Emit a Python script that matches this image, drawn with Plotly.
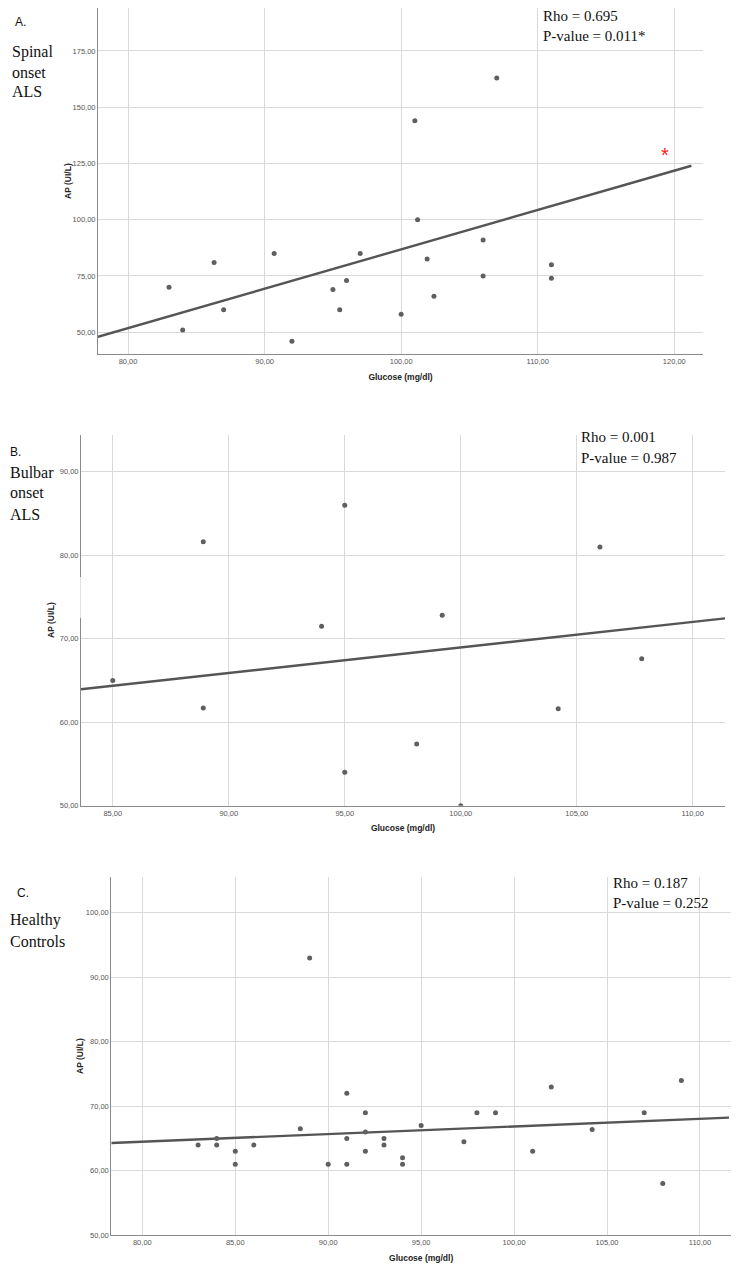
import plotly.graph_objects as go

# page is shown with the browser's default 8px body margin
OFF = 8
W, H = 747 - OFF, 1269 - OFF

# ---------------- data ----------------
# Panel A: Spinal onset ALS
spinal_glucose = [83, 84, 86.3, 87, 90.7, 92, 95, 95.5, 96, 97, 100, 101, 101.2, 101.9, 102.4, 106, 106, 107, 111, 111]
spinal_ap = [70, 51, 81, 60, 85, 46, 69, 60, 73, 85, 58, 144, 100, 82.5, 66, 75, 91, 163, 80, 74]
spinal_fit_x = [77.8, 121.25]
spinal_fit_y = [48.0, 124.0]

# Panel B: Bulbar onset ALS
bulbar_glucose = [85, 88.9, 88.9, 94, 95, 95, 98.1, 99.2, 100, 104.2, 106, 107.8]
bulbar_ap = [65, 81.6, 61.7, 71.5, 86, 54, 57.4, 72.8, 50, 61.6, 81, 67.6]
bulbar_fit_x = [83.63, 111.94]
bulbar_fit_y = [63.95, 72.6]

# Panel C: Healthy controls
control_glucose = [83, 84, 84, 85, 85, 86, 88.5, 89, 90, 91, 91, 91, 92, 92, 92,
                   93, 93, 94, 94, 95, 97.3, 98, 99, 101, 102, 104.2, 107, 108, 109]
control_ap = [64, 65, 64, 63, 61, 64, 66.5, 93, 61, 72, 65, 61, 69, 66, 63,
              65, 64, 62, 61, 67, 64.5, 69, 69, 63, 73, 66.4, 69, 58, 74]
control_fit_x = [78.33, 111.56]
control_fit_y = [64.3, 68.23]

# axis ticks
a_xticks = [80, 90, 100, 110, 120]
a_yticks = [50, 75, 100, 125, 150, 175]
b_xticks = [85, 90, 95, 100, 105, 110]
b_yticks = [50, 60, 70, 80, 90]
c_xticks = [80, 85, 90, 95, 100, 105, 110]
c_yticks = [50, 60, 70, 80, 90, 100]

x_title = "Glucose (mg/dl)"
y_title = "AP (UI/L)"
stats_a = ["Rho = 0.695", "P-value = 0.011*"]
stats_b = ["Rho = 0.001", "P-value = 0.987"]
stats_c = ["Rho = 0.187", "P-value = 0.252"]

# ---------------- helpers ----------------
def px(x):
    return min(max((x - OFF) / W, 0), 1)

def py(y):
    return min(max(1 - (y - OFF) / H, 0), 1)

DOT = "#5f5f5f"
LINE = "#555555"
GRID = "#d9d9d9"
AXIS = "#8a8a8a"
SANS = "Arial, Liberation Sans, sans-serif"
SERIF = "Liberation Serif, DejaVu Serif, serif"
TICKFONT = dict(family=SANS, size=7.5, color="#555555")
TITLEFONT = dict(family=SANS, size=8.5, color="#222222")

fig = go.Figure()

panels = [
    ("x", "y", spinal_glucose, spinal_ap, spinal_fit_x, spinal_fit_y),
    ("x2", "y2", bulbar_glucose, bulbar_ap, bulbar_fit_x, bulbar_fit_y),
    ("x3", "y3", control_glucose, control_ap, control_fit_x, control_fit_y),
]
for xa, ya, gx, gy, fx, fy in panels:
    fig.add_trace(go.Scatter(x=fx, y=fy, mode="lines", xaxis=xa, yaxis=ya,
                             line=dict(color=LINE, width=2.4), showlegend=False,
                             hoverinfo="skip"))
    fig.add_trace(go.Scatter(x=gx, y=gy, mode="markers", xaxis=xa, yaxis=ya,
                             marker=dict(color=DOT, size=5), showlegend=False))

def xaxis(dom, rng, ticks, anchor):
    return dict(domain=dom, range=rng, tickvals=ticks, tickformat=".2f",
                showgrid=True, gridcolor=GRID, gridwidth=1, zeroline=False,
                showline=True, linecolor=AXIS, linewidth=1, ticks="",
                tickfont=TICKFONT, automargin=False, anchor=anchor,
                title=dict(text="<b>%s</b>" % x_title, font=TITLEFONT, standoff=8))

def yaxis(dom, rng, ticks, anchor):
    return dict(domain=dom, range=rng, tickvals=ticks, tickformat=".2f",
                showgrid=True, gridcolor=GRID, gridwidth=1, zeroline=False,
                showline=True, linecolor=AXIS, linewidth=1, ticks="",
                tickfont=TICKFONT, anchor=anchor, automargin=False)

fig.update_layout(
    width=W, height=H, margin=dict(l=0, r=0, t=0, b=0),
    paper_bgcolor="white", plot_bgcolor="white",
    separators=",.",
    xaxis=xaxis([px(98), px(703)], [77.8, 122.1], a_xticks, "y"),
    yaxis=yaxis([py(354.3), py(8)], [40.2, 194.1], a_yticks, "x"),
    xaxis2=xaxis([px(81), px(725)], [83.63, 111.39], b_xticks, "y2"),
    yaxis2=yaxis([py(805.7), py(435)], [50, 94.4], b_yticks, "x2"),
    xaxis3=xaxis([px(111.3), px(731)], [78.33, 111.67], c_xticks, "y3"),
    yaxis3=yaxis([py(1235.2), py(877.3)], [50, 105.5], c_yticks, "x3"),
)

ann = []
def text(x, y, s, size, family, color="#111111", xanchor="left", angle=0):
    ann.append(dict(x=px(x), y=py(y), xref="paper", yref="paper", text=s,
                    showarrow=False, xanchor=xanchor, yanchor="middle",
                    textangle=angle, font=dict(family=family, size=size, color=color)))

# y-axis titles
text(68, 181, "<b>%s</b>" % y_title, 8.5, SANS, color="#222222", xanchor="center", angle=-90)
text(51, 620, "<b>%s</b>" % y_title, 8.5, SANS, color="#222222", xanchor="center", angle=-90)
text(80, 1056, "<b>%s</b>" % y_title, 8.5, SANS, color="#222222", xanchor="center", angle=-90)

# Panel A
text(13, 22, "A.", 12, SANS)
text(10, 52, "Spinal", 16, SERIF)
text(10, 72, "onset", 16, SERIF)
text(10, 92, "ALS", 16, SERIF)
text(541, 16, stats_a[0], 15, SERIF)
text(541, 36, stats_a[1], 15, SERIF)
text(665, 155, "*", 20, SANS, color="#ff2020", xanchor="center")
# Panel B
text(8, 452, "B.", 12, SANS)
text(8, 472, "Bulbar", 16, SERIF)
text(8, 493, "onset", 16, SERIF)
text(8, 514, "ALS", 16, SERIF)
text(579, 437, stats_b[0], 15, SERIF)
text(579, 458, stats_b[1], 15, SERIF)
# Panel C
text(15, 893, "C.", 12, SANS)
text(8, 920, "Healthy", 16, SERIF)
text(8, 941, "Controls", 16, SERIF)
text(611, 883, stats_c[0], 15, SERIF)
text(611, 903, stats_c[1], 15, SERIF)

fig.update_layout(annotations=ann)

# faint white patch that interrupts panel B's y-axis line
fig.add_shape(type="rect", xref="paper", yref="paper",
              x0=px(79.5), x1=px(83), y0=py(618), y1=py(577),
              fillcolor="rgba(255,255,255,0.75)", line=dict(width=0), layer="above")

fig.write_html("out.html")
